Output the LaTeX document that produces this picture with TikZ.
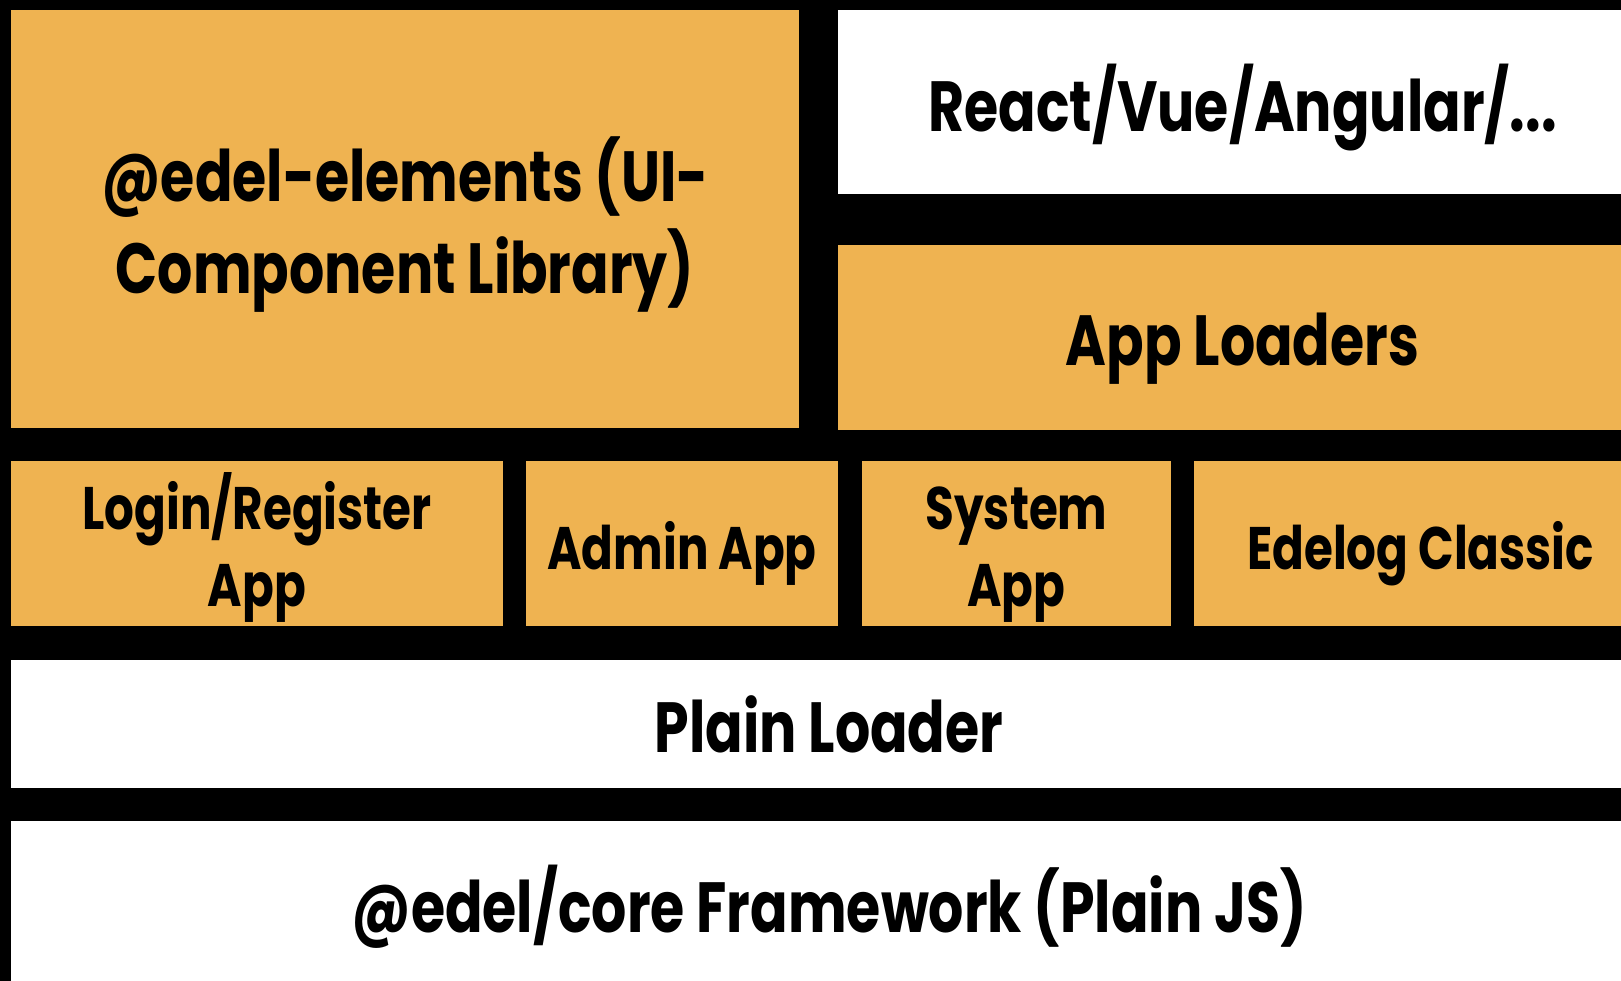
\documentclass[tikz,border=0pt]{standalone}
\usepackage{fontspec}
\setmainfont{Poppins}[FakeStretch=0.78]
\definecolor{tileorange}{RGB}{239,179,81}
\tikzset{
  tile/.style={anchor=south west, inner sep=0pt, outer sep=0pt, draw=none},
  orangetile/.style={tile, fill=tileorange},
  whitetile/.style={tile, fill=white},
  biglbl/.style={anchor=base, inner sep=0pt, font=\bfseries\fontsize{71}{92}\selectfont, align=center},
  smalllbl/.style={anchor=base, inner sep=0pt, font=\bfseries\fontsize{60}{77}\selectfont, align=center},
}
\newcommand{\tileat}[6]{\node[#1, minimum width=#4-#3, minimum height=#6-#5] (#2) at (#3,#5) {};}
\begin{document}
\begin{tikzpicture}[x=1pt,y=1pt]
  \useasboundingbox (0,0) rectangle (1621,981);
  \clip (0,0) rectangle (1621,981);
  \fill[black] (0,0) rectangle (1621,981);
  % tiles: style, name, x0, x1, y0, y1
  \tileat{orangetile}{elements}{11}{799}{553}{971}
  \tileat{whitetile}{react}{838}{1647}{787}{971}
  \tileat{orangetile}{loaders}{838}{1647}{551}{736}
  \tileat{orangetile}{login}{11}{503}{355}{520}
  \tileat{orangetile}{admin}{526}{838}{355}{520}
  \tileat{orangetile}{system}{862}{1171}{355}{520}
  \tileat{orangetile}{edelog}{1194}{1647}{355}{520}
  \tileat{whitetile}{plain}{11}{1647}{193}{321}
  \tileat{whitetile}{core}{11}{1647}{-20}{160}
  % labels (multi-line labels sit on the baseline of their last line)
  \node[biglbl] (t-elements) at (405,687) {@edel-elements (UI-\\Component Library)};
  \node[biglbl] (t-react) at (1242.5,849) {React/Vue/Angular/...};
  \node[biglbl] (t-loaders) at (1242.5,615) {App Loaders};
  \node[smalllbl] (t-login) at (257,374) {Login/Register\\App};
  \node[smalllbl] (t-admin) at (682,411) {Admin App};
  \node[smalllbl] (t-system) at (1016.5,374) {System\\App};
  \node[smalllbl] (t-edelog) at (1420.5,411) {Edelog Classic};
  \node[biglbl] (t-plain) at (829,228) {Plain Loader};
  \node[biglbl] (t-core) at (829,48) {@edel/core Framework (Plain JS)};
\end{tikzpicture}
\end{document}
